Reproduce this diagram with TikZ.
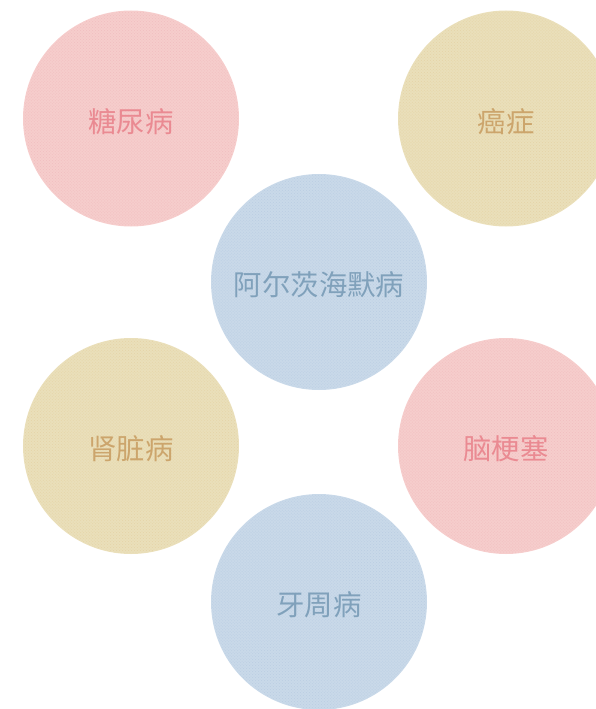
\documentclass[tikz,border=0pt]{standalone}
\usepackage{fontspec}
\newfontfamily\cjk{Noto Sans CJK SC}
\usetikzlibrary{patterns}
\definecolor{pinkfill}{HTML}{F6CDCC}
\definecolor{pinkdot}{HTML}{F0BEBF}
\definecolor{pinktext}{HTML}{EA8A92}
\definecolor{yelfill}{HTML}{EADFBA}
\definecolor{yeldot}{HTML}{E4D4A6}
\definecolor{yeltext}{HTML}{CCA56C}
\definecolor{bluefill}{HTML}{C9D9E9}
\definecolor{bluedot}{HTML}{BACDE2}
\definecolor{bluetext}{HTML}{80A1BB}
\tikzset{
  bubble/.style={circle, minimum size=216bp, inner sep=0pt},
  pinkb/.style={bubble, fill=pinkfill},
  yelb/.style={bubble, fill=yelfill},
  blueb/.style={bubble, fill=bluefill},
  label/.style={font=\cjk\fontsize{28.5}{32}\selectfont, yshift=-3bp},
}
\begin{document}
\begin{tikzpicture}[x=1bp,y=-1bp]
\useasboundingbox (0,0) rectangle (596,709);
\clip (0,0) rectangle (596,709);
\node[pinkb] (a) at (131,118.5) {};
\node[yelb] (b) at (506,118.5) {};
\node[blueb] (c) at (319,282) {};
\node[yelb] (d) at (131,446) {};
\node[pinkb] (e) at (506,446) {};
\node[blueb] (f) at (319,602) {};
\foreach \n/\c in {a/pinkdot,b/yeldot,c/bluedot,d/yeldot,e/pinkdot,f/bluedot}{
  \path[pattern=crosshatch dots, pattern color=\c] (\n.center) circle[radius=107bp];
}
\node[label, text=pinktext] (ta) at (a.center) {糖尿病};
\node[label, text=yeltext] (tb) at (b.center) {癌症};
\node[label, text=bluetext] (tc) at (c.center) {阿尔茨海默病};
\node[label, text=yeltext] (td) at (d.center) {肾脏病};
\node[label, text=pinktext] (te) at (e.center) {脑梗塞};
\node[label, text=bluetext] (tf) at (f.center) {牙周病};
\end{tikzpicture}
\end{document}
